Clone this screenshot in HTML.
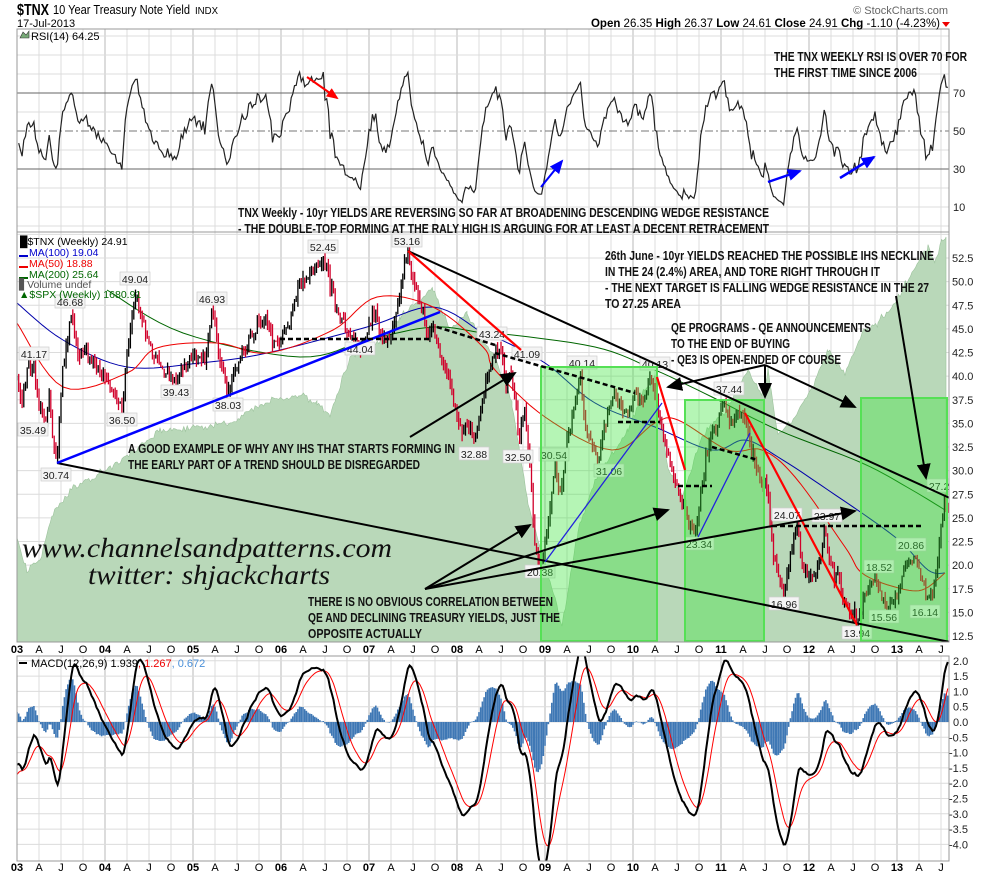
<!DOCTYPE html>
<html><head><meta charset="utf-8">
<style>
html,body{margin:0;padding:0;background:#fff;}
svg{display:block;}
text{font-family:"Liberation Sans",sans-serif;}
.an{font-family:"Liberation Sans Narrow","Liberation Sans",sans-serif;font-weight:bold;font-size:13px;fill:#111;}
.ax{font-size:11px;fill:#222;}
.lb{font-size:10.5px;fill:#222;text-anchor:middle;}
</style></head>
<body>
<svg id="s" width="990" height="876" viewBox="0 0 990 876" xmlns="http://www.w3.org/2000/svg">
<defs>
<marker id="ab" markerWidth="8" markerHeight="8" refX="7" refY="4" orient="auto" markerUnits="userSpaceOnUse"><path d="M0,0 L8,4 L0,8 z" fill="#000"/></marker>
<marker id="ar" markerWidth="12" markerHeight="10" refX="10" refY="5" orient="auto" markerUnits="userSpaceOnUse"><path d="M0,0 L12,5 L0,10 z" fill="#f00"/></marker>
<marker id="au" markerWidth="14" markerHeight="12" refX="12" refY="6" orient="auto" markerUnits="userSpaceOnUse"><path d="M0,0 L14,6 L0,12 z" fill="#00f"/></marker>
<marker id="ak" markerWidth="16" markerHeight="14" refX="14" refY="7" orient="auto" markerUnits="userSpaceOnUse"><path d="M0,0 L16,7 L0,14 z" fill="#000"/></marker>
<clipPath id="cm"><rect x="17" y="232" width="932" height="410"/></clipPath>
<clipPath id="cr"><rect x="17" y="29" width="932" height="203"/></clipPath>
<clipPath id="cd"><rect x="17" y="656" width="932" height="205"/></clipPath>
</defs>
<g id="g"></g>
<!-- header text -->
<text x="17" y="15" style="font-size:16px;font-weight:bold" textLength="32" lengthAdjust="spacingAndGlyphs">$TNX</text>
<text x="53" y="14" style="font-size:12.5px" textLength="137" lengthAdjust="spacingAndGlyphs">10 Year Treasury Note Yield</text>
<text x="195" y="14" style="font-size:10px" textLength="23" lengthAdjust="spacingAndGlyphs">INDX</text>
<text x="17" y="27" style="font-size:11px">17-Jul-2013</text>
<text x="948" y="14" style="font-size:11px;fill:#666" text-anchor="end">© StockCharts.com</text>
<text x="940" y="27" style="font-size:11.5px" text-anchor="end"><tspan font-weight="bold">Open</tspan> 26.35 <tspan font-weight="bold">High</tspan> 26.37 <tspan font-weight="bold">Low</tspan> 24.61 <tspan font-weight="bold">Close</tspan> 24.91 <tspan font-weight="bold">Chg</tspan> -1.10 (-4.23%)</text>
<path d="M942,22 L950,22 L946,27 z" fill="#e00"/>
<!-- RSI legend -->
<path d="M20,38 L23,32 L26,35 L29,31 L29,38 z" fill="#7a7" stroke="#333" stroke-width="0.6"/>
<text x="31" y="40" style="font-size:11px">RSI(14) 64.25</text>
<!-- main legend -->
<g style="font-size:10.5px">
<text x="20" y="245">&#9608;$TNX (Weekly) 24.91</text>
<rect x="19" y="255" width="9" height="2" fill="#00c"/><text x="29" y="256" fill="#00c">MA(100) 19.04</text>
<rect x="19" y="266" width="9" height="2" fill="#e00"/><text x="29" y="267" fill="#e00">MA(50) 18.88</text>
<rect x="19" y="277" width="9" height="2" fill="#060"/><text x="29" y="278" fill="#060">MA(200) 25.64</text>
<text x="19" y="288" fill="#555">&#9611;Volume undef</text>
<text x="19" y="298" fill="#060">&#9650;$SPX (Weekly) 1680.91</text>
</g>
<!-- MACD legend -->
<g style="font-size:11px"><rect x="19" y="662" width="8" height="2" fill="#000"/><text x="31" y="667">MACD(12,26,9) 1.939<tspan fill="#e00">, 1.267</tspan><tspan fill="#4a90d9">, 0.672</tspan></text></g>
<!-- annotations -->
<text class="an" x="774" y="61" textLength="193" lengthAdjust="spacingAndGlyphs">THE TNX WEEKLY RSI IS OVER 70 FOR</text>
<text class="an" x="774" y="77" textLength="143" lengthAdjust="spacingAndGlyphs">THE FIRST TIME SINCE 2006</text>
<text class="an" x="238" y="217" textLength="531" lengthAdjust="spacingAndGlyphs">TNX Weekly - 10yr YIELDS ARE REVERSING SO FAR AT BROADENING DESCENDING WEDGE RESISTANCE</text>
<text class="an" x="238" y="233" textLength="531" lengthAdjust="spacingAndGlyphs">- THE DOUBLE-TOP FORMING AT THE RALY HIGH IS ARGUING FOR AT LEAST A DECENT RETRACEMENT</text>
<text class="an" x="605" y="260" textLength="329" lengthAdjust="spacingAndGlyphs">26th June - 10yr YIELDS REACHED THE POSSIBLE IHS NECKLINE</text>
<text class="an" x="605" y="276" textLength="275" lengthAdjust="spacingAndGlyphs">IN THE 24 (2.4%) AREA, AND TORE RIGHT THROUGH IT</text>
<text class="an" x="605" y="292" textLength="324" lengthAdjust="spacingAndGlyphs">- THE NEXT TARGET IS FALLING WEDGE RESISTANCE IN THE 27</text>
<text class="an" x="605" y="308" textLength="76" lengthAdjust="spacingAndGlyphs">TO 27.25 AREA</text>
<text class="an" x="671" y="332" textLength="200" lengthAdjust="spacingAndGlyphs">QE PROGRAMS - QE ANNOUNCEMENTS</text>
<text class="an" x="671" y="348" textLength="119" lengthAdjust="spacingAndGlyphs">TO THE END OF BUYING</text>
<text class="an" x="671" y="364" textLength="170" lengthAdjust="spacingAndGlyphs">- QE3 IS OPEN-ENDED OF COURSE</text>
<text class="an" x="128" y="453" textLength="327" lengthAdjust="spacingAndGlyphs">A GOOD EXAMPLE OF WHY ANY IHS THAT STARTS FORMING IN</text>
<text class="an" x="128" y="469" textLength="292" lengthAdjust="spacingAndGlyphs">THE EARLY PART OF A TREND SHOULD BE DISREGARDED</text>
<text class="an" x="308" y="606" textLength="245" lengthAdjust="spacingAndGlyphs">THERE IS NO OBVIOUS CORRELATION BETWEEN</text>
<text class="an" x="308" y="622" textLength="252" lengthAdjust="spacingAndGlyphs">QE AND DECLINING TREASURY YIELDS, JUST THE</text>
<text class="an" x="308" y="638" textLength="114" lengthAdjust="spacingAndGlyphs">OPPOSITE ACTUALLY</text>
<text x="22" y="557" textLength="370" lengthAdjust="spacingAndGlyphs" style="font-family:'Liberation Serif',serif;font-style:italic;font-size:27px;fill:#111">www.channelsandpatterns.com</text>
<text x="88" y="584" textLength="242" lengthAdjust="spacingAndGlyphs" style="font-family:'Liberation Serif',serif;font-style:italic;font-size:27px;fill:#111">twitter: shjackcharts</text>
</svg>
<script>
(function(){
var g=document.getElementById('g');var h='';
var L=17,R=949;
function yM(v){return 636-(v-12.5)*9.45;}
function yR(v){return 169-(v-30)*1.9;}
function yD(v){return 722-v*30.6;}
var seed=12345;function rnd(){seed|=0;seed=seed+0x6D2B79F5|0;var t=Math.imul(seed^seed>>>15,1|seed);t=t+Math.imul(t^t>>>7,61|t)^t;return((t^t>>>14)>>>0)/4294967296;}
function gs(){return (rnd()+rnd()+rnd()-1.5)*1.4;}
h+='<rect x="0" y="0" width="990" height="876" fill="#fff"/>';
var xs=[];for(var y=2003;y<=2013;y++)for(var q=0;q<4;q++){var x=L+88*((y-2003)+q*0.25);if(x<=R)xs.push([x,q==0?(''+(y%100<10?'0':'')+(y%100)):['','A','J','O'][q],q==0]);}
function vgrid(y0,y1){xs.forEach(function(a){h+='<line x1="'+a[0]+'" y1="'+y0+'" x2="'+a[0]+'" y2="'+y1+'" stroke="'+(a[2]?'#b8b8b8':'#dcdcdc')+'" stroke-width="1"/>';});}
vgrid(29,232);
for(var v=0;v<=100;v+=10){var yy=yR(v);if(yy>29&&yy<232&&v!=70&&v!=30&&v!=50)h+='<line x1="17" y1="'+yy+'" x2="949" y2="'+yy+'" stroke="#dcdcdc"/>';}
h+='<line x1="17" y1="'+yR(70)+'" x2="949" y2="'+yR(70)+'" stroke="#666"/>';
h+='<line x1="17" y1="'+yR(30)+'" x2="949" y2="'+yR(30)+'" stroke="#666"/>';
h+='<line x1="17" y1="'+yR(50)+'" x2="949" y2="'+yR(50)+'" stroke="#777" stroke-dasharray="8,3,2,3"/>';
[70,50,30,10].forEach(function(v){h+='<text class="ax" x="953" y="'+(yR(v)+4)+'">'+v+'</text>';});
vgrid(232,642);
for(var v=12.5;v<=55;v+=2.5){var yy=yM(v);if(yy>232&&yy<642){h+='<line x1="17" y1="'+yy+'" x2="949" y2="'+yy+'" stroke="#dcdcdc"/>';if(v<54)h+='<text class="ax" x="952" y="'+(yy+4)+'">'+v.toFixed(1)+'</text>';}}
vgrid(656,861);
for(var v=-4;v<=2.01;v+=0.5){var yy=yD(v);h+='<line x1="17" y1="'+yy+'" x2="949" y2="'+yy+'" stroke="#dcdcdc"/>';h+='<text class="ax" x="'+(v<0?949:953)+'" y="'+(yy+4)+'">'+v.toFixed(1)+'</text>';}
function dates(yb){xs.forEach(function(a){h+='<text x="'+a[0]+'" y="'+yb+'" text-anchor="middle" style="font-size:11px;'+(a[2]?'font-weight:bold':'')+'">'+a[1]+'</text>';});}
dates(653);dates(871);
var spx=[[17,537],[27,570],[40,560],[53,513],[70,490],[100,473],[130,455],[160,430],[190,428],[233,423],[250,410],[270,400],[300,395],[317,403],[330,415],[350,357],[383,340],[400,317],[433,288],[450,330],[467,313],[483,340],[495,357],[512,403],[528,503],[535,530],[545,563],[562,627],[578,530],[595,480],[628,430],[645,390],[655,377],[668,470],[682,497],[702,437],[728,407],[748,370],[762,397],[768,370],[778,437],[795,417],[812,387],[828,350],[845,373],[862,333],[878,323],[895,303],[912,273],[928,247],[935,263],[942,240],[946,237]];
var sp='M17,642';
for(var i=0;i<spx.length-1;i++){var a=spx[i],b=spx[i+1];for(var x=a[0];x<b[0];x+=1.7){var t=(x-a[0])/(b[0]-a[0]);sp+=' L'+x.toFixed(1)+','+(a[1]+(b[1]-a[1])*t+gs()*2.5).toFixed(1);}}
sp+=' L946,237 L946,642 Z';
h+='<g clip-path="url(#cm)"><path d="'+sp+'" fill="#b9d8b9" stroke="#9cc29c" stroke-width="0.6"/>';
function pl(pts,c,w){return '<polyline points="'+pts.map(function(p){return p[0]+','+p[1];}).join(' ')+'" fill="none" stroke="'+c+'" stroke-width="'+(w||1)+'"/>';}
function smooth(pts){var o=[];for(var i=0;i<pts.length-1;i++){var p0=pts[Math.max(0,i-1)],p1=pts[i],p2=pts[i+1],p3=pts[Math.min(pts.length-1,i+2)];for(var k=0;k<8;k++){var t=k/8,t2=t*t,t3=t2*t;var c=function(j){return 0.5*((2*p1[j])+(-p0[j]+p2[j])*t+(2*p0[j]-5*p1[j]+4*p2[j]-p3[j])*t2+(-p0[j]+3*p1[j]-3*p2[j]+p3[j])*t3);};o.push([c(0).toFixed(1),c(1).toFixed(1)]);}}o.push(pts[pts.length-1]);return o;}
var ma100=[[17,303],[63,340],[127,367],[200,363],[267,353],[367,327],[433,307],[483,333],[495,337],[545,363],[595,403],[655,427],[712,450],[745,440],[778,457],[828,490],[895,537],[928,570],[945,573]];
var ma50=[[17,323],[63,387],[127,373],[157,348],[217,343],[267,353],[333,330],[377,297],[433,307],[483,347],[495,370],[545,417],[612,450],[655,423],[678,420],[728,450],[762,450],[795,477],[845,547],[862,573],[895,587],[922,590],[945,573]];
var ma200=[[107,290],[183,333],[300,357],[367,340],[433,327],[483,333],[495,333],[595,347],[655,370],[712,397],[778,430],[862,463],[912,490],[945,510]];
h+=pl(smooth(ma200),'#060',1)+pl(smooth(ma100),'#00a',1)+pl(smooth(ma50),'#e00',1);
var kp=[[17,40],[22,37],[28,41],[34,41.17],[38,37],[45,35.49],[50,38],[53,33],[57,30.74],[62,40],[67,44],[72,46.68],[78,42],[85,43],[95,41],[105,40],[115,38],[122,36.5],[128,43],[135,49.04],[142,46],[150,43],[160,41],[170,40.5],[176,39.43],[185,41],[195,42],[205,42],[212,46.93],[220,42],[228,38.03],[235,41],[245,43],[255,45],[265,46],[272,44],[280,43],[290,46],[300,50],[312,51],[323,52.45],[330,50],[337,47],[345,45],[355,44],[362,42.5],[368,45],[375,47],[382,44],[388,44],[395,46],[400,49],[408,53.16],[413,50],[420,48],[428,44.04],[433,45],[440,42],[448,40],[455,37],[462,34],[468,35],[475,32.88],[480,36],[487,40],[493,42],[500,43.24],[506,39],[510,41.09],[515,38],[519,32.5],[524,37],[530,30],[535,22],[541,20.38],[548,24],[555,30.54],[560,27],[567,33],[575,37],[580,40.14],[585,35],[590,33],[598,31.06],[605,35],[612,38],[620,37],[628,36],[635,38],[642,37],[650,40.13],[655,38],[662,34],[667,32],[672,30],[678,28],[685,26],[690,24],[695,23.34],[700,27],[705,31],[712,34],[718,35],[724,37.44],[730,35],[737,36],[745,35.5],[752,32],[758,30],[762,28],[766,29],[770,25],[775,20],[780,18],[784,16.96],[788,20],[793,22],[797,24.07],[802,20],[808,19],[815,19],[820,20],[825,23.97],[830,20],[835,19],[840,18],[845,16],[850,15],[855,14.5],[857,13.94],[862,16],[868,17.5],[875,18.52],[880,17],[886,16],[890,15.56],[896,16.5],[903,19],[910,20],[915,20.86],[920,19],[926,17],[930,16.14],[935,18],[939,22],[942,25],[944,27.25],[946,26],[948,24.91]];
function interp(x){for(var i=0;i<kp.length-1;i++){if(x>=kp[i][0]&&x<=kp[i+1][0]){var t=(x-kp[i][0])/(kp[i+1][0]-kp[i][0]);return kp[i][1]+(kp[i+1][1]-kp[i][1])*t;}}return kp[kp.length-1][1];}
var W=[];var step=88/52;var pc=40;
for(var x=17;x<=948;x+=step){var c=interp(x)+gs()*0.5;var o=pc;var hi=Math.max(o,c)+rnd()*0.8;var lo=Math.min(o,c)-rnd()*0.8;W.push({x:x,o:o,c:c,h:hi,l:lo});pc=c;}
var bars='';W.forEach(function(b){var col=b.c>=b.o?'#000':'#d0002a';bars+='<line x1="'+b.x.toFixed(1)+'" y1="'+yM(b.h).toFixed(1)+'" x2="'+b.x.toFixed(1)+'" y2="'+yM(b.l).toFixed(1)+'" stroke="'+col+'" stroke-width="1.3"/>';});
h+=bars;
var labs=[['41.17',34,354],['35.49',33,430],['46.68',70,302],['49.04',135,279],['30.74',56,475],['36.50',122,420],['39.43',176,392],['46.93',212,299],['38.03',228,405],['52.45',323,247],['53.16',407,241],['44.04',360,349],['32.88',474,454],['43.24',492,334],['41.09',527,354],['32.50',518,457],['40.14',582,363],['30.54',554,455],['31.06',609,471],['40.13',655,364],['37.44',729,389],['23.34',699,544],['20.38',540,572],['24.07',787,515],['23.97',827,516],['16.96',784,604],['13.94',857,633],['15.56',884,617],['18.52',879,567],['20.86',911,545],['16.14',925,612],['27.25',942,486]];
labs.forEach(function(l){h+='<rect x="'+(l[1]-15)+'" y="'+(l[2]-7)+'" width="30" height="13" fill="#f4f4f4" stroke="#ccc" stroke-width="0.7"/><text class="lb" x="'+l[1]+'" y="'+(l[2]+4)+'">'+l[0]+'</text>';});
[[541,367,116],[685,400,79],[861,398,86]].forEach(function(b){h+='<rect x="'+b[0]+'" y="'+b[1]+'" width="'+b[2]+'" height="'+(641-b[1])+'" fill="rgba(60,230,60,0.38)" stroke="#55e055" stroke-width="2"/>';});
function ln(x1,y1,x2,y2,c,w,ex){h+='<line x1="'+x1+'" y1="'+y1+'" x2="'+x2+'" y2="'+y2+'" stroke="'+c+'" stroke-width="'+w+'" '+(ex||'')+'/>';}
ln(408,251,965,505,'#000',2);ln(57,463,965,645,'#000',2);
ln(57,463,440,312,'#00f',2.5);
ln(408,251,521,350,'#f00',2.2);ln(657,377,685,470,'#f00',2.2);ln(745,413,857,625,'#f00',2.2);
ln(545,562,662,403,'#22d',1.3);ln(698,537,750,433,'#22d',1.3);
var dsh='stroke-dasharray="5,3"';
ln(280,339,430,339,'#000',2.5,dsh);ln(437,327,495,345,'#000',2.5,dsh);ln(495,353,635,393,'#000',2.5,dsh);ln(618,422,660,422,'#000',2.5,dsh);ln(678,486,712,486,'#000',2.5,dsh);ln(712,447,758,460,'#000',2.5,dsh);ln(772,526,922,526,'#000',2.5,dsh);
var mk='marker-end="url(#ak)"';
ln(410,437,515,373,'#000',2,mk);
ln(425,589,530,525,'#000',2,mk);ln(425,589,668,510,'#000',2,mk);ln(425,589,855,511,'#000',2,mk);
ln(765,365,668,387,'#000',2,mk);ln(765,365,765,397,'#000',2,mk);ln(765,365,855,407,'#000',2,mk);
ln(896,296,926,478,'#000',2,mk);
h+='</g>';
var ag=0.45,al=0.5,rs=[];var n=14;
for(var i=1;i<W.length;i++){var d=W[i].c-W[i-1].c;ag=(ag*(n-1)+Math.max(d,0))/n;al=(al*(n-1)+Math.max(-d,0))/n;rs.push([W[i].x,100-100/(1+ag/al)]);}
h+='<g clip-path="url(#cr)">'+pl(rs.map(function(p){return [p[0].toFixed(1),yR(p[1]).toFixed(1)];}),'#222',1.2);
ln(307,77,337,98,'#f00',2,'marker-end="url(#ar)"');
ln(541,187,562,161,'#00f',2,'marker-end="url(#au)"');ln(768,182,800,171,'#00f',2.5,'marker-end="url(#au)"');ln(840,178,874,157,'#00f',2.5,'marker-end="url(#au)"');
h+='</g>';
var e12=W[0].c,e26=W[0].c+1.5,sg=-1.8,k12=2/13,k26=2/27,k9=0.2;var M=[],S=[],H='';
W.forEach(function(b){e12=e12+(b.c-e12)*k12;e26=e26+(b.c-e26)*k26;var m=e12-e26;sg=sg+(m-sg)*k9;M.push([b.x.toFixed(1),yD(m).toFixed(1)]);S.push([b.x.toFixed(1),yD(sg).toFixed(1)]);var hv=m-sg;H+='<rect x="'+(b.x-0.8).toFixed(1)+'" y="'+Math.min(yD(0),yD(hv)).toFixed(1)+'" width="1.6" height="'+Math.abs(yD(hv)-yD(0)).toFixed(1)+'" fill="#3f78b5"/>';});
h+='<g clip-path="url(#cd)">'+H+pl(S,'#f00',1)+pl(M,'#000',2)+'</g>';
h+='<rect x="17" y="29" width="932" height="203" fill="none" stroke="#999"/>';
h+='<rect x="17" y="232" width="932" height="410" fill="none" stroke="#999"/>';
h+='<rect x="17" y="656" width="932" height="205" fill="none" stroke="#999"/>';
g.innerHTML=h;
})();
</script>
</body></html>
